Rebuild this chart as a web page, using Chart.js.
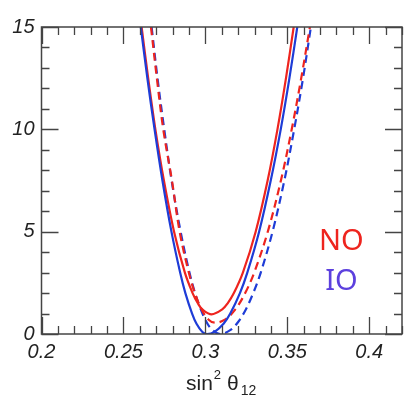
<!DOCTYPE html>
<html>
<head>
  <meta charset="UTF-8">
  <title>sin2 theta12 chi2</title>
  <script src="https://cdn.jsdelivr.net/npm/chart.js"></script>
  <style>
    body { margin: 0; background: #fff; }
    #wrap { width: 405px; height: 400px; }
  </style>
</head>
<body>
  <div id="wrap"><canvas id="chi2Chart" width="405" height="400"></canvas></div>
  <script>
    // axis ticks
    const xTicks = [0.2, 0.25, 0.3, 0.35, 0.4];
    const xTickLabels = ['0.2', '0.25', '0.3', '0.35', '0.4'];
    const yTicks = [0, 5, 10, 15];
    const yTickLabels = ['0', '5', '10', '15'];

    // NO, solid (red)
    const noSolidX = [0.2611, 0.2651, 0.2695, 0.2747, 0.2809, 0.2875, 0.2922, 0.2954, 0.2982, 0.3038, 0.3103, 0.3136, 0.3174, 0.3229, 0.3307, 0.3380, 0.3440, 0.3492, 0.3539];
    const noSolidY = [15, 12.5, 10, 7.5, 5, 3, 2, 1.5, 1.2, 0.96, 1.2, 1.5, 2, 3, 5, 7.5, 10, 12.5, 15];
    // IO, solid (blue)
    const ioSolidX = [0.2606, 0.2646, 0.2690, 0.2738, 0.2793, 0.2846, 0.2878, 0.2919, 0.2946, 0.2982, 0.3010, 0.3055, 0.3111, 0.3152, 0.3211, 0.3256, 0.3328, 0.3399, 0.3460, 0.3513, 0.3561];
    const ioSolidY = [15, 12.5, 10, 7.5, 5, 3, 2, 1, 0.5, 0.1, 0, 0.1, 0.5, 1, 2, 3, 5, 7.5, 10, 12.5, 15];
    // NO, dashed (red)
    const noDashX = [0.2668, 0.2704, 0.2743, 0.2796, 0.2843, 0.2899, 0.2936, 0.2977, 0.3020, 0.3060, 0.3119, 0.3183, 0.3243, 0.3298, 0.3381, 0.3461, 0.3527, 0.3585, 0.3638];
    const noDashY = [15, 12.5, 10, 7.5, 5, 3, 2, 1.2, 0.7, 0.55, 0.7, 1.2, 2, 3, 5, 7.5, 10, 12.5, 15];
    // IO, dashed (blue)
    const ioDashX = [0.2672, 0.2708, 0.2749, 0.2794, 0.2849, 0.2903, 0.2937, 0.2972, 0.3006, 0.3042, 0.3090, 0.3154, 0.3201, 0.3247, 0.3292, 0.3338, 0.3410, 0.3482, 0.3542, 0.3596, 0.3644];
    const ioDashY = [15, 12.5, 10, 7.5, 5, 3, 2, 1.2, 0.6, 0.2, 0, 0.2, 0.6, 1.2, 2, 3, 5, 7.5, 10, 12.5, 15];

    const RED = 'rgb(238, 36, 30)';
    const BLUE = 'rgb(30, 60, 215)';

    function pts(xs, ys) {
      return xs.map((x, i) => ({ x: x, y: ys[i] }));
    }

    function curve(xs, ys, color, dash) {
      return {
        data: pts(xs, ys),
        borderColor: color,
        borderWidth: 2.2,
        borderDash: dash,
        pointRadius: 0,
        showLine: true,
        tension: 0.35,
        fill: false
      };
    }

    // frame, inward ticks, labels NO/IO and x axis title
    const framePlugin = {
      id: 'frame',
      afterDatasetsDraw(chart) {
        const ctx = chart.ctx;
        const a = chart.chartArea;
        const xs = chart.scales.x;
        const ys = chart.scales.y;
        ctx.save();
        ctx.strokeStyle = '#444';
        ctx.lineWidth = 1.5;
        ctx.strokeRect(a.left, a.top, a.right - a.left, a.bottom - a.top);

        ctx.lineWidth = 1.3;
        ctx.beginPath();
        // x ticks, top and bottom
        for (let i = 20; i <= 42; i++) {
          const v = i / 100;
          const px = Math.round(xs.getPixelForValue(v)) + 0.5;
          const len = (i % 5 === 0) ? 17 : 8;
          ctx.moveTo(px, a.bottom); ctx.lineTo(px, a.bottom - len);
          ctx.moveTo(px, a.top); ctx.lineTo(px, a.top + len);
        }
        // y ticks, left and right
        for (let v = 0; v <= 15; v++) {
          const py = Math.round(ys.getPixelForValue(v)) + 0.5;
          const len = (v % 5 === 0) ? 17 : 8;
          ctx.moveTo(a.left, py); ctx.lineTo(a.left + len, py);
          ctx.moveTo(a.right, py); ctx.lineTo(a.right - len, py);
        }
        ctx.stroke();

        // NO / IO
        ctx.textAlign = 'center';
        ctx.textBaseline = 'middle';
        ctx.font = '29px "Noto Sans"';
        ctx.fillStyle = RED;
        ctx.fillText('NO', xs.getPixelForValue(0.383), ys.getPixelForValue(4.5));
        ctx.fillStyle = 'rgb(92, 64, 222)';
        ctx.fillText('IO', xs.getPixelForValue(0.383), ys.getPixelForValue(2.55));

        // x title: sin^2 theta_12
        ctx.fillStyle = '#222';
        ctx.textAlign = 'left';
        ctx.textBaseline = 'alphabetic';
        const base = 390;
        ctx.font = '21px "Liberation Sans"';
        let x0 = 186;
        ctx.fillText('sin', x0, base);
        x0 += ctx.measureText('sin').width + 1;
        ctx.font = '13px "Liberation Sans"';
        ctx.fillText('2', x0, base - 11);
        x0 += ctx.measureText('2').width + 6;
        ctx.font = '21px "Liberation Sans"';
        ctx.fillText('θ', x0, base);
        x0 += ctx.measureText('θ').width + 2;
        ctx.font = '14px "Liberation Sans"';
        ctx.fillText('12', x0, base + 5);
        ctx.restore();
      }
    };

    const tickFont = { family: '"Liberation Sans", Arial, sans-serif', size: 20, style: 'italic' };

    new Chart(document.getElementById('chi2Chart').getContext('2d'), {
      type: 'scatter',
      data: {
        datasets: [
          curve(ioSolidX, ioSolidY, BLUE, []),
          curve(noSolidX, noSolidY, RED, []),
          curve(noDashX, noDashY, RED, [8, 5]),
          curve(ioDashX, ioDashY, BLUE, [8, 5])
        ]
      },
      options: {
        responsive: false,
        animation: false,
        layout: { padding: { top: 27, right: 3, left: 0, bottom: 0 } },
        plugins: { legend: { display: false }, tooltip: { enabled: false } },
        scales: {
          x: {
            type: 'linear',
            min: 0.2,
            max: 0.42,
            grid: { display: false, drawTicks: false },
            border: { display: false },
            afterBuildTicks: (s) => { s.ticks = xTicks.map(v => ({ value: v })); },
            afterFit: (s) => { s.height = 66; },
            ticks: {
              padding: 6,
              color: '#222',
              font: tickFont,
              maxRotation: 0,
              callback: (v) => { const i = xTicks.indexOf(v); return i >= 0 ? xTickLabels[i] : ''; }
            }
          },
          y: {
            min: 0,
            max: 15,
            grid: { display: false, drawTicks: false },
            border: { display: false },
            afterBuildTicks: (s) => { s.ticks = yTicks.map(v => ({ value: v })); },
            afterFit: (s) => { s.width = 41.5; },
            ticks: {
              padding: 7,
              color: '#222',
              font: tickFont,
              callback: (v) => { const i = yTicks.indexOf(v); return i >= 0 ? yTickLabels[i] : ''; }
            }
          }
        }
      },
      plugins: [framePlugin]
    });
  </script>
</body>
</html>
